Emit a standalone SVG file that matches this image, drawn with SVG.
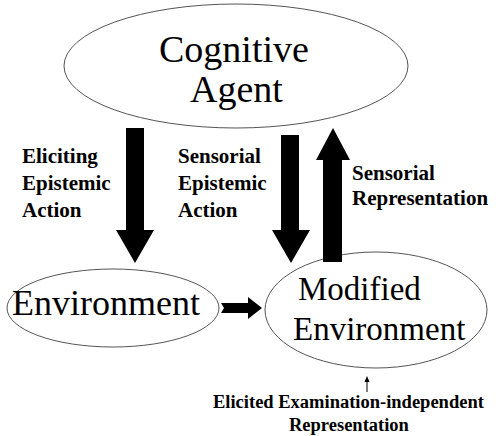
<svg xmlns="http://www.w3.org/2000/svg" width="496" height="436" viewBox="0 0 496 436">
<defs>
<ellipse id="shape" rx="1" ry="1"/>
</defs>
<rect width="496" height="436" fill="#fff"/>
<g id="agent">
<ellipse cx="236" cy="66" rx="172" ry="62" fill="#fff" stroke="#555"/>
<text x="159" y="62" font-size="38" font-family="Liberation Serif">Cognitive</text>
<text x="190" y="102" font-size="38" font-family="Liberation Serif">Agent</text>
</g>
<g id="environment">
<ellipse cx="113" cy="308" rx="106" ry="39" fill="#fff" stroke="#555"/>
<text x="12" y="315" font-size="36" font-family="Liberation Serif">Environment</text>
</g>
<g id="modified">
<ellipse cx="376" cy="310" rx="111" ry="58" fill="#fff" stroke="#555"/>
<text x="298" y="300" font-size="33" font-family="Liberation Serif">Modified</text>
<text x="293" y="340" font-size="33" font-family="Liberation Serif">Environment</text>
</g>
<g id="connectors">
<polygon points="126,128 144,128 144,230 154,230 135,263 116,230 126,230"/>
<polygon points="281,135 299,135 299,230 310,230 291,263 272,230 281,230"/>
<polygon points="323,262 342,262 342,160 350,160 333,128 316,160 323,160"/>
<polygon points="221,303 248,303 248,297 262,308 248,319 248,313 221,313 224,308"/>
<line x1="367" y1="392" x2="367" y2="381" stroke="#000" stroke-width="1"/>
<polygon points="367,376 369.5,382 364.5,382"/>
</g>
<g id="labels">
<text x="22" y="163" font-size="21" font-weight="bold" font-family="Liberation Serif">Eliciting</text>
<text x="22" y="190" font-size="21" font-weight="bold" font-family="Liberation Serif">Epistemic</text>
<text x="22" y="217" font-size="21" font-weight="bold" font-family="Liberation Serif">Action</text>
<text x="178" y="163" font-size="21" font-weight="bold" font-family="Liberation Serif">Sensorial</text>
<text x="178" y="190" font-size="21" font-weight="bold" font-family="Liberation Serif">Epistemic</text>
<text x="178" y="217" font-size="21" font-weight="bold" font-family="Liberation Serif">Action</text>
<text x="352" y="180" font-size="21" font-weight="bold" font-family="Liberation Serif">Sensorial</text>
<text x="352" y="205" font-size="21" font-weight="bold" font-family="Liberation Serif">Representation</text>
<text x="213" y="408" font-size="18.5" font-weight="bold" font-family="Liberation Serif">Elicited Examination-independent</text>
<text x="289" y="431" font-size="18.5" font-weight="bold" font-family="Liberation Serif">Representation</text>
</g>
</svg>
